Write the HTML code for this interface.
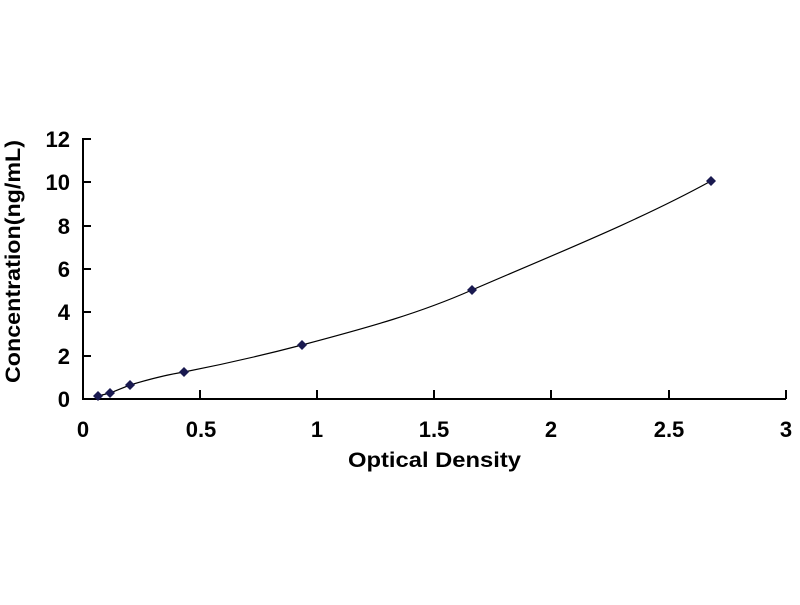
<!DOCTYPE html><html><head><style>body{margin:0;background:#fff}</style></head><body>
<svg width="800" height="600" xmlns="http://www.w3.org/2000/svg" font-family="Liberation Sans, sans-serif" font-weight="bold">
<rect width="800" height="600" fill="#fff"/>
<g stroke="#000" stroke-width="2" fill="none">
<path d="M83 138V399H786"/>
<path d="M83 139h8M83 182h8M83 226h8M83 269h8M83 312h8M83 356h8"/>
<path d="M200 399v-9M317 399v-9M434 399v-9M551 399v-9M669 399v-9M786 399v-9"/>
</g>
<g font-size="22" text-anchor="end" fill="#000">
<text x="70" y="147">12</text><text x="70" y="190">10</text><text x="70" y="234">8</text><text x="70" y="277">6</text><text x="70" y="320">4</text><text x="70" y="364">2</text><text x="70" y="407">0</text>
</g>
<g font-size="22" text-anchor="middle" fill="#000">
<text x="83" y="437">0</text><text x="201" y="437">0.5</text><text x="317" y="437">1</text><text x="434" y="437">1.5</text><text x="551" y="437">2</text><text x="669" y="437">2.5</text><text x="786" y="437">3</text>
</g>
<text x="348" y="467" font-size="21" textLength="173" lengthAdjust="spacingAndGlyphs">Optical Density</text>
<text transform="translate(20,383) rotate(-90)" font-size="21" textLength="243" lengthAdjust="spacingAndGlyphs">Concentration(ng/mL)</text>
<path d="M98 396 L110 393 L130 385 C150 379 165 375 184 372 C230 363 260 356 302 345 C370 327 420 313 472 290 C560 252 640 220 711 181" stroke="#000" stroke-width="1.2" fill="none"/>
<g fill="#1a1a50">
<path d="M98 391l5 5-5 5-5-5z"/><path d="M110 388l5 5-5 5-5-5z"/><path d="M130 380l5 5-5 5-5-5z"/><path d="M184 367l5 5-5 5-5-5z"/><path d="M302 340l5 5-5 5-5-5z"/><path d="M472 285l5 5-5 5-5-5z"/><path d="M711 176l5 5-5 5-5-5z"/>
</g>
</svg></body></html>
